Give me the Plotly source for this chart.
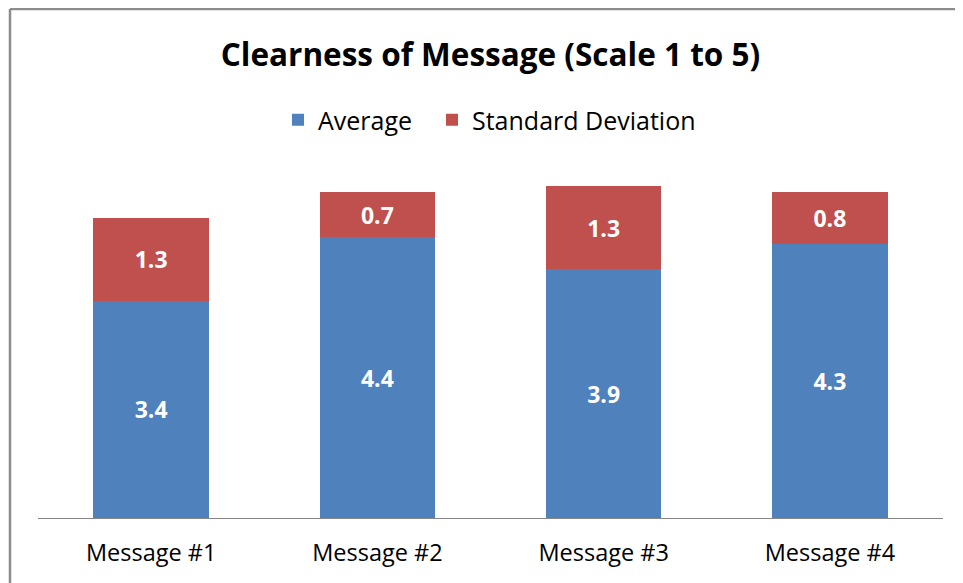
import plotly.graph_objects as go

categories = ["Message #1", "Message #2", "Message #3", "Message #4"]
average = [3.4, 4.4, 3.9, 4.3]
std_dev = [1.3, 0.7, 1.3, 0.8]

FONT = "Open Sans"
OFF = 8  # page body margin offset
W, H = 963 - OFF, 583 - OFF
ml, mt = 38 - OFF, 135 - OFF
mr, mb = W - (943 - OFF), H - (518 - OFF)
plot_h = H - mt - mb
plot_w = W - ml - mr

fig = go.Figure()
fig.add_trace(go.Bar(
    x=categories, y=average, name="Average", legend="legend",
    marker=dict(color="#4F81BD", line=dict(width=0)),
    text=[f"{v:.1f}" for v in average], textposition="inside",
    insidetextanchor="middle", constraintext="none",
    textfont=dict(family=FONT, size=23, color="white", weight="bold"),
))
fig.add_trace(go.Bar(
    x=categories, y=std_dev, name="Standard Deviation", legend="legend2",
    marker=dict(color="#C0504D", line=dict(width=0)),
    text=[f"{v:.1f}" for v in std_dev], textposition="inside",
    insidetextanchor="middle", constraintext="none",
    textfont=dict(family=FONT, size=23, color="white", weight="bold"),
))

left_x = (10 - OFF - ml) / plot_w
top_y = 1 + (mt - 1) / plot_h
leg_y = 1 + 15 / plot_h


def leg(text_left_screen):
    return dict(orientation="h", xanchor="left",
                x=(text_left_screen - OFF - 40 - ml) / plot_w,
                y=leg_y, yanchor="middle",
                font=dict(family=FONT, size=25, color="black"),
                itemwidth=30, bgcolor="rgba(0,0,0,0)")


fig.update_layout(
    width=W, height=H,
    barmode="stack", bargap=0.49,
    margin=dict(l=ml, r=mr, t=mt, b=mb),
    paper_bgcolor="white", plot_bgcolor="white",
    font=dict(family=FONT, color="black"),
    title=dict(text="<b>Clearness of Message (Scale 1 to 5)</b>",
               font=dict(family=FONT, size=31.5, color="black"),
               x=0.5, xref="paper", xanchor="center",
               y=1 - (55 - OFF) / H, yref="container", yanchor="middle"),
    legend=leg(318),
    legend2=leg(472),
    showlegend=True,
    xaxis=dict(showline=True, linecolor="#868686", linewidth=1,
               ticks="", showgrid=False, ticklabelstandoff=14,
               tickfont=dict(family=FONT, size=23.5, color="black")),
    yaxis=dict(range=[0, 6], visible=False, showgrid=False),
    shapes=[
        dict(type="line", xref="paper", yref="paper",
             x0=left_x, x1=1.2, y0=top_y, y1=top_y,
             line=dict(color="#8C8C8C", width=2.5), layer="below"),
        dict(type="line", xref="paper", yref="paper",
             x0=left_x, x1=left_x, y0=-0.5, y1=top_y,
             line=dict(color="#8C8C8C", width=2.5), layer="below"),
    ],
)

fig.write_html("out.html")
